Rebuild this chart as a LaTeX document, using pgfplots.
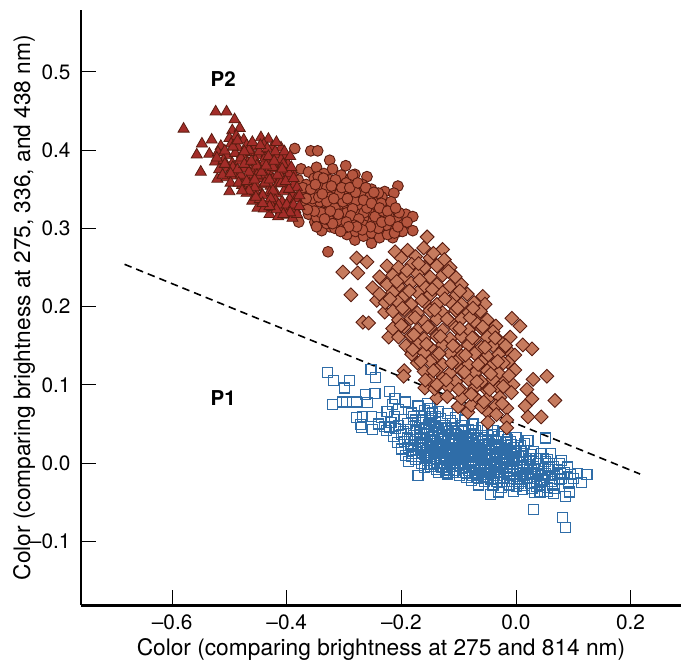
\documentclass[border=0pt]{standalone}
\usepackage{fontspec}
\setmainfont{TeX Gyre Heros}
\usepackage{pgfplots}
\pgfplotsset{compat=1.18}
\definecolor{sqc}{HTML}{2F6DA8}
\definecolor{tric}{HTML}{A32D29}
\definecolor{cirf}{HTML}{B5563F}
\definecolor{diaf}{HTML}{C67B5E}
\definecolor{edg}{HTML}{5A1C10}
\begin{document}
\begin{tikzpicture}[x=1pt,y=1pt]
\path[use as bounding box] (-81,-55.5) rectangle (600,605.5);
\begin{axis}[
 scale only axis, width=600pt, height=595.5pt, at={(0,0)}, anchor=south west,
 xmin=-0.759, xmax=0.288, ymin=-0.182, ymax=0.579,
 axis x line=bottom, axis y line=left,
 axis line style={-,line width=2.4pt,black},
 xtick={-0.6,-0.4,-0.2,0,0.2}, xticklabels={--0.6,--0.4,--0.2,0.0,0.2},
 ytick={-0.1,0,0.1,0.2,0.3,0.4,0.5}, yticklabels={--0.1,0.0,0.1,0.2,0.3,0.4,0.5},
 tick align=inside, major tick length=15pt, tick style={black,line width=0.8pt},
 tick label style={font=\fontsize{20.8}{22}\selectfont},
 xticklabel style={yshift=-6pt}, yticklabel style={xshift=-7pt},
 xlabel={Color (comparing brightness at 275 and 814 nm)},
 ylabel={Color (comparing brightness at 275, 336, and 438 nm)},
 label style={font=\fontsize{22.7}{24}\selectfont},
 xlabel style={yshift=-2pt}, ylabel style={yshift=-12pt},
 clip=false,
]
\addplot[only marks, mark=square, mark size=5pt, mark options={draw=sqc,line width=1.1pt,fill=none}] coordinates {
(-.329,.116)(-.318,.106)(-.290,.105)(-.299,.096)(-.253,.120)(-.245,.109)(-.320,.075)(-.302,.078)(-.295,.078)(-.278,.078)(-.262,.088)(-.246,.089)(-.259,.077)(-.220,.091)(-.211,.082)(-.278,.058)(-.267,.059)(-.252,.059)(-.272,.049)(-.269,.045)(-.250,.043)(-.229,.047)(-.220,.046)(-.171,-.016)
(.086,-.082)(.082,-.069)(.030,-.059)(-.065,-.028)(-.044,-.040)(-.031,-.037)(-.086,-.019)(.087,-.043)(.094,-.037)(.124,-.015)(.115,-.025)(.108,-.013)(.080,.003)(.051,.032)(.021,.029)(.033,-.038)
(-.215,.075)(-.192,.078)(-.171,.073)(-.155,.076)
(-.225,.066)(-.205,.068)(-.183,.064)(-.160,.067)(-.145,.064)
(-.235,.058)(-.212,.060)(-.196,.056)(-.178,.059)(-.163,.056)(-.147,.060)(-.131,.057)
(-.240,.050)(-.218,.052)(-.205,.048)(-.190,.051)(-.176,.048)(-.165,.052)(-.152,.049)(-.140,.052)(-.125,.048)(-.110,.051)
(-.226,.042)(-.210,.044)(-.197,.040)(-.184,.043)(-.173,.040)(-.160,.044)(-.148,.041)(-.136,.043)(-.120,.040)(-.107,.044)(-.095,.041)(-.083,.043)
(-.214,.034)(-.200,.036)(-.190,.032)(-.178,.035)(-.166,.032)(-.155,.036)(-.143,.033)(-.130,.035)(-.117,.032)(-.104,.036)(-.092,.033)(-.080,.035)(-.067,.032)(-.050,.035)
(-.206,.026)(-.195,.028)(-.184,.024)(-.172,.027)(-.162,.024)(-.150,.028)(-.139,.025)(-.127,.027)(-.116,.024)(-.105,.028)(-.094,.025)(-.083,.027)(-.071,.024)(-.059,.028)(-.047,.025)(-.033,.027)
(-.200,.018)(-.188,.020)(-.178,.016)(-.167,.019)(-.156,.016)(-.145,.020)(-.134,.017)(-.122,.019)(-.111,.016)(-.100,.020)(-.089,.017)(-.078,.019)(-.066,.016)(-.055,.020)(-.043,.017)(-.031,.019)(-.019,.016)(-.004,.020)
(-.192,.010)(-.181,.012)(-.170,.008)(-.159,.011)(-.148,.008)(-.137,.012)(-.126,.009)(-.115,.011)(-.104,.008)(-.093,.012)(-.082,.009)(-.071,.011)(-.060,.008)(-.049,.012)(-.038,.009)(-.027,.011)(-.015,.008)(-.003,.012)(.012,.009)(.025,.011)
(-.188,.002)(-.176,.004)(-.165,.000)(-.154,.003)(-.143,.000)(-.132,.004)(-.121,.001)(-.110,.003)(-.099,.000)(-.088,.004)(-.077,.001)(-.066,.003)(-.055,.000)(-.044,.004)(-.033,.001)(-.022,.003)(-.011,.000)(.001,.004)(.013,.001)(.026,.003)(.040,.000)(.055,.004)
(-.160,-.006)(-.149,-.004)(-.138,-.008)(-.127,-.005)(-.116,-.008)(-.105,-.004)(-.094,-.007)(-.083,-.005)(-.072,-.008)(-.061,-.004)(-.050,-.007)(-.039,-.005)(-.028,-.008)(-.017,-.004)(-.006,-.007)(.006,-.005)(.018,-.008)(.031,-.004)(.044,-.007)(.058,-.005)(.072,-.008)(.090,-.005)
(-.120,-.014)(-.109,-.012)(-.098,-.016)(-.087,-.013)(-.076,-.016)(-.065,-.012)(-.054,-.015)(-.043,-.013)(-.032,-.016)(-.021,-.012)(-.010,-.015)(.001,-.013)(.013,-.016)(.026,-.012)(.038,-.015)(.051,-.013)(.064,-.016)(.078,-.012)(.095,-.015)
(-.078,-.022)(-.066,-.020)(-.055,-.024)(-.044,-.021)(-.033,-.024)(-.022,-.020)(-.011,-.023)(.001,-.021)(.012,-.024)(.024,-.020)(.036,-.023)(.049,-.021)(.062,-.024)(.076,-.021)(.092,-.026)
(-.040,-.029)(-.025,-.031)(-.012,-.028)(.001,-.030)(.015,-.029)(.028,-.032)(.042,-.028)(.055,-.031)(.068,-.033)
(-.004,-.036)(.012,-.034)(.042,-.037)(.055,-.036)(.065,-.039)
(-.150,.030)(-.132,.022)(-.112,.013)(-.092,.006)(-.072,.015)(-.052,.006)(-.032,-.002)(-.142,.014)(-.122,.006)(-.102,-.001)(-.082,-.010)(-.062,-.002)(-.042,-.010)(-.022,-.018)(-.158,.022)(-.138,.005)(-.118,.030)(-.098,.022)(-.078,.030)(-.058,.014)(-.038,.022)(-.018,.004)(.002,-.010)(.020,-.002)(.035,.006)
(-.128,.037)(-.108,.038)(-.088,.034)(-.168,.036)(-.148,.046)(-.128,.015)(-.108,.005)(-.088,-.012)(-.068,-.018)(-.048,-.018)(-.028,.006)(-.008,.014)(.010,.015)(.030,.015)(.045,.012)(-.175,.030)(-.182,.008)(-.155,-.002)(-.135,-.012)(-.114,-.002)(-.094,.016)(-.074,.004)(-.054,.024)(-.034,.012)(-.014,-.010)(.006,-.020)(.026,-.026)(.045,-.022)(.065,-.004)(.080,-.020)
(-.175,.055)(-.168,.046)(-.161,.038)(-.154,.030)(-.147,.023)(-.140,.015)(-.133,.007)(-.126,-.001)(-.119,-.009)(-.112,.046)(-.105,.038)(-.098,.030)(-.091,.023)(-.084,.015)(-.077,.007)(-.070,-.001)(-.063,-.010)(-.056,-.017)(-.049,.030)(-.042,.023)(-.035,.015)(-.028,.000)(-.021,-.006)(-.014,.018)(-.007,.002)
(-.172,.022)(-.165,.014)(-.158,.006)(-.151,-.002)(-.144,.038)(-.137,.030)(-.130,.046)(-.123,.023)(-.116,.015)(-.109,.007)(-.102,.014)(-.095,.006)(-.088,-.002)(-.081,.022)(-.074,.038)(-.067,.024)(-.060,.035)(-.053,.012)(-.046,-.002)(-.039,.030)(-.032,.010)(-.025,.018)(-.018,.026)(-.011,.006)(-.004,-.014)
(-.186,.030)(-.179,.022)(-.157,.046)(-.150,.054)(-.143,.048)(-.136,.022)(-.129,.030)(-.122,.044)(-.115,.036)(-.108,.024)(-.101,.040)(-.094,.032)(-.087,.026)(-.080,.012)(-.073,.020)(-.066,.008)(-.059,.004)(-.052,.016)(-.045,.010)(-.038,.002)(-.031,-.012)(-.024,.008)(-.017,-.014)(-.010,-.006)(-.003,.006)
(-.164,.026)(-.157,.010)(-.150,.014)(-.143,.006)(-.136,.012)(-.129,-.006)(-.122,-.012)(-.115,.020)(-.108,-.010)(-.101,.006)(-.094,-.012)(-.087,.020)(-.080,.002)(-.073,-.012)(-.066,-.014)(-.059,.022)(-.052,-.012)(-.045,-.020)(-.038,-.016)(-.031,.024)(-.024,-.024)(-.017,.012)(-.010,-.020)(-.003,-.024)(.004,.008)
(-.133,.040)(-.126,.032)(-.119,.018)(-.112,.028)(-.105,.014)(-.098,.008)(-.091,.040)(-.084,.032)(-.077,.026)(-.070,.032)(-.063,.018)(-.056,.030)(-.049,.042)(-.042,.036)(-.035,.028)(-.028,.020)(-.021,.014)(-.014,.030)(-.007,.024)(.000,.016)(.008,.022)(.016,-.014)(.024,.006)(.032,-.008)(.040,-.014)(.048,.006)(.056,-.008)(.064,-.028)(.072,-.014)
(.004,-.026)(.012,-.006)(.020,-.018)(.028,-.012)(.036,-.030)(.044,-.016)(.052,.002)(.060,.012)(.068,-.020)(.076,.000)(.084,-.012)(.100,-.020)
(-.155,.014)(-.148,.034)(-.141,.028)(-.134,.010)(-.127,.018)(-.120,.012)(-.113,.032)(-.106,.018)(-.099,.010)(-.092,-.006)(-.085,.008)(-.078,-.004)(-.071,.000)(-.064,.012)(-.057,-.008)(-.050,.000)(-.043,.028)(-.036,-.006)(-.029,.014)(-.022,-.004)(-.015,.022)
(-.150,.070)(-.135,.066)(-.120,.063)(-.105,.058)(-.090,.055)(-.075,.050)(-.060,.046)(-.040,.042)(-.020,.040)(.000,.033)(.015,.025)(-.140,.060)(-.115,.054)(-.095,.048)(-.070,.042)(-.030,.034)(-.010,.028)
};
\addplot[black, line width=1.6pt, dash pattern=on 7.5pt off 5pt] coordinates {(-.683,.254)(.2166,-.014)};
\addplot[only marks, mark=*, mark size=5.4pt, mark options={draw=edg,line width=0.9pt,fill=cirf}] coordinates {
(-.386,.402)(-.358,.399)(-.346,.399)(-.325,.387)(-.297,.380)(-.206,.354)(-.229,.347)(-.213,.345)(-.260,.366)(-.281,.369)(-.328,.270)(-.379,.308)(-.351,.308)(-.192,.318)(-.180,.315)(-.180,.297)(-.215,.288)(-.252,.281)(-.281,.285)(-.325,.302)(-.339,.297)
(-.375,.376)(-.362,.372)(-.348,.378)(-.335,.370)(-.320,.376)(-.305,.368)(-.290,.362)
(-.380,.362)(-.366,.356)(-.352,.364)(-.338,.356)(-.324,.362)(-.310,.354)(-.296,.358)(-.282,.352)(-.268,.356)(-.252,.350)
(-.375,.346)(-.360,.342)(-.346,.348)(-.332,.342)(-.318,.348)(-.304,.340)(-.290,.346)(-.276,.340)(-.262,.345)(-.248,.338)(-.234,.340)
(-.370,.332)(-.356,.328)(-.342,.334)(-.328,.328)(-.314,.334)(-.300,.326)(-.286,.332)(-.272,.326)(-.258,.332)(-.244,.325)(-.230,.330)(-.218,.326)
(-.362,.318)(-.348,.314)(-.334,.320)(-.320,.314)(-.306,.320)(-.292,.312)(-.278,.318)(-.264,.312)(-.250,.318)(-.236,.312)(-.222,.316)(-.208,.310)(-.196,.305)
(-.330,.306)(-.316,.300)(-.302,.306)(-.288,.298)(-.274,.304)(-.260,.298)(-.246,.304)(-.232,.298)(-.218,.304)(-.204,.296)
(-.295,.292)(-.280,.296)(-.266,.290)(-.252,.294)(-.238,.288)(-.224,.292)(-.210,.300)
(-.355,.338)(-.340,.352)(-.325,.340)(-.310,.330)(-.295,.320)(-.280,.310)(-.265,.304)(-.340,.320)(-.325,.310)(-.310,.310)(-.295,.345)(-.280,.335)(-.265,.320)(-.250,.308)(-.240,.320)(-.235,.332)(-.300,.300)(-.285,.325)(-.270,.345)(-.255,.340)(-.240,.345)(-.345,.366)(-.330,.352)(-.315,.362)(-.300,.350)(-.285,.368)
(-.372,.352)(-.358,.350)(-.344,.340)(-.330,.334)(-.316,.326)(-.302,.334)(-.288,.316)(-.274,.312)(-.260,.326)(-.246,.315)(-.232,.322)(-.218,.334)(-.204,.320)(-.190,.308)(-.198,.296)(-.212,.294)(-.226,.304)(-.240,.300)(-.254,.302)(-.268,.298)(-.282,.304)(-.296,.308)(-.310,.318)(-.324,.322)(-.338,.344)(-.352,.322)(-.366,.338)(-.364,.324)(-.350,.356)(-.336,.364)(-.322,.354)(-.308,.344)(-.294,.338)(-.280,.346)(-.266,.336)(-.252,.332)(-.238,.326)(-.224,.322)(-.210,.326)(-.318,.338)(-.304,.352)(-.290,.352)(-.276,.358)(-.262,.352)(-.248,.346)(-.234,.308)(-.220,.310)(-.206,.302)(-.278,.302)(-.292,.302)(-.306,.296)(-.320,.306)(-.334,.312)(-.348,.302)
};
\addplot[only marks, mark=triangle*, mark size=6.4pt, mark options={draw=edg,line width=0.8pt,fill=tric}] coordinates {
(-.524,.449)(-.505,.449)(-.580,.427)(-.491,.439)(-.548,.408)(-.531,.413)(-.557,.394)(-.550,.372)(-.521,.363)(-.500,.347)(-.451,.326)(-.430,.318)
(-.495,.425)(-.482,.428)
(-.500,.415)(-.488,.418)(-.475,.413)(-.445,.416)(-.432,.414)
(-.515,.405)(-.497,.408)(-.485,.403)(-.470,.406)(-.458,.404)(-.440,.407)(-.425,.404)(-.410,.403)
(-.535,.395)(-.520,.397)(-.505,.393)(-.490,.396)(-.478,.394)(-.462,.397)(-.450,.393)(-.435,.396)(-.418,.394)(-.405,.392)
(-.525,.385)(-.510,.387)(-.495,.383)(-.482,.386)(-.468,.384)(-.455,.387)(-.440,.383)(-.428,.386)(-.412,.384)(-.398,.382)
(-.518,.375)(-.503,.377)(-.490,.373)(-.475,.376)(-.460,.374)(-.448,.377)(-.433,.373)(-.420,.376)(-.405,.374)(-.390,.372)
(-.505,.365)(-.492,.367)(-.478,.363)(-.465,.366)(-.450,.364)(-.438,.367)(-.424,.363)(-.410,.366)(-.395,.364)
(-.478,.355)(-.465,.357)(-.452,.353)(-.440,.356)(-.428,.354)(-.415,.357)(-.400,.353)(-.388,.356)
(-.470,.345)(-.455,.347)(-.443,.343)(-.430,.346)(-.418,.344)(-.405,.347)(-.390,.343)
(-.460,.335)(-.447,.337)(-.432,.333)(-.420,.336)(-.408,.334)(-.395,.337)
(-.440,.325)(-.425,.327)(-.410,.323)(-.398,.326)(-.385,.324)
(-.415,.315)(-.400,.317)(-.390,.313)
(-.508,.399)(-.494,.404)(-.480,.390)(-.466,.400)(-.452,.380)(-.438,.390)(-.424,.378)(-.410,.388)(-.396,.370)(-.382,.352)(-.384,.338)(-.396,.350)(-.410,.358)(-.424,.348)(-.438,.358)(-.452,.368)(-.466,.372)(-.480,.368)(-.494,.378)(-.508,.382)(-.522,.390)(-.512,.368)(-.498,.358)(-.484,.358)(-.470,.360)(-.456,.352)(-.442,.342)(-.428,.338)(-.414,.330)(-.400,.330)(-.388,.330)(-.382,.318)(-.394,.320)(-.406,.318)(-.418,.324)(-.430,.328)(-.442,.332)(-.454,.340)(-.466,.348)(-.478,.348)(-.486,.375)(-.474,.382)(-.462,.386)(-.448,.398)(-.434,.402)(-.420,.398)(-.406,.382)(-.392,.378)(-.486,.412)(-.474,.398)(-.460,.410)(-.446,.406)(-.432,.392)(-.418,.410)(-.404,.398)(-.498,.370)(-.456,.362)(-.444,.372)(-.430,.362)(-.416,.368)(-.402,.360)(-.388,.364)(-.378,.342)(-.378,.328)(-.436,.380)(-.422,.386)(-.408,.376)(-.394,.392)
};
\addplot[only marks, mark=square*, mark size=4.9pt, mark options={rotate=45,draw=edg,line width=0.9pt,fill=diaf}] coordinates {
(-.195,.118)(-.196,.111)(-.302,.244)(-.288,.215)(-.278,.262)(-.276,.243)(-.260,.257)(-.267,.180)(-.257,.179)(-.243,.208)(-.250,.224)(-.234,.234)(-.222,.161)(-.229,.193)(-.155,.289)(-.128,.273)(-.161,.275)(-.189,.272)(-.211,.270)
(-.058,.213)(-.054,.203)(-.007,.185)(.007,.175)(-.035,.175)(-.010,.161)(.028,.146)(.012,.151)(-.014,.144)(-.002,.138)(-.014,.129)(-.002,.119)(.054,.111)(.030,.107)(.068,.080)(.019,.094)(.028,.082)(.016,.073)(.021,.059)(.044,.059)(-.016,.070)(-.016,.055)(-.049,.065)(-.049,.052)(-.016,.045)(-.084,.065)(-.101,.072)(-.138,.083)(-.159,.096)(-.068,.187)
(-.200,.262)(-.175,.264)(-.150,.262)(-.125,.260)
(-.225,.252)(-.205,.250)(-.182,.254)(-.160,.250)(-.138,.252)(-.115,.250)
(-.238,.238)(-.215,.240)(-.195,.238)(-.172,.242)(-.150,.238)(-.128,.240)(-.106,.238)
(-.225,.228)(-.205,.226)(-.183,.230)(-.160,.226)(-.138,.228)(-.115,.226)(-.095,.228)
(-.238,.216)(-.215,.218)(-.195,.214)(-.172,.218)(-.150,.215)(-.128,.218)(-.105,.214)(-.085,.216)
(-.228,.205)(-.206,.206)(-.183,.203)(-.160,.206)(-.138,.203)(-.115,.206)(-.095,.203)(-.073,.205)
(-.215,.194)(-.195,.196)(-.172,.192)(-.150,.195)(-.128,.192)(-.105,.195)(-.083,.192)(-.062,.194)
(-.205,.183)(-.183,.185)(-.160,.181)(-.138,.184)(-.115,.181)(-.095,.184)(-.072,.181)(-.050,.183)
(-.215,.172)(-.195,.174)(-.172,.170)(-.150,.173)(-.128,.170)(-.105,.173)(-.083,.170)(-.060,.172)(-.040,.168)
(-.205,.161)(-.183,.163)(-.160,.159)(-.138,.162)(-.115,.159)(-.095,.162)(-.072,.159)(-.050,.161)(-.030,.157)
(-.192,.150)(-.172,.152)(-.150,.148)(-.128,.151)(-.105,.148)(-.083,.151)(-.060,.148)(-.040,.150)(-.022,.146)
(-.182,.139)(-.160,.141)(-.138,.137)(-.115,.140)(-.095,.137)(-.072,.140)(-.050,.137)(-.030,.139)
(-.172,.128)(-.150,.130)(-.128,.126)(-.105,.129)(-.083,.126)(-.060,.129)(-.040,.126)(-.022,.128)
(-.160,.117)(-.138,.119)(-.115,.115)(-.095,.118)(-.072,.115)(-.050,.118)(-.030,.115)
(-.150,.106)(-.128,.108)(-.105,.104)(-.083,.107)(-.060,.104)(-.040,.107)(-.020,.104)(-.005,.100)
(-.142,.095)(-.118,.097)(-.095,.093)(-.072,.096)(-.050,.093)(-.030,.096)(-.008,.090)
(-.120,.085)(-.095,.083)(-.072,.085)(-.050,.082)(-.028,.084)
(-.078,.074)(-.060,.072)(-.035,.073)
(-.190,.246)(-.168,.234)(-.146,.222)(-.124,.210)(-.102,.198)(-.080,.186)(-.058,.174)(-.036,.160)(-.018,.150)(-.208,.232)(-.186,.220)(-.164,.208)(-.142,.196)(-.120,.184)(-.098,.172)(-.076,.160)(-.054,.148)(-.032,.130)(-.012,.112)(-.220,.210)(-.198,.198)(-.176,.186)(-.154,.174)(-.132,.162)(-.110,.150)(-.088,.138)(-.066,.126)(-.044,.114)(-.022,.098)(-.200,.176)(-.178,.164)(-.156,.152)(-.134,.140)(-.112,.128)(-.090,.116)(-.068,.104)(-.046,.094)(-.024,.076)(-.166,.130)(-.144,.118)(-.122,.106)(-.100,.094)(-.078,.088)(-.056,.078)(-.034,.062)(-.170,.255)(-.144,.268)(-.118,.245)(-.098,.220)(-.075,.198)(-.180,.145)(-.158,.106)(-.138,.100)
};
\node[font=\fontsize{20.5}{22}\selectfont\bfseries] at (axis cs:-.511,.491) {P2};
\node[font=\fontsize{20.5}{22}\selectfont\bfseries] at (axis cs:-.511,.083) {P1};
\end{axis}
\end{tikzpicture}
\end{document}
